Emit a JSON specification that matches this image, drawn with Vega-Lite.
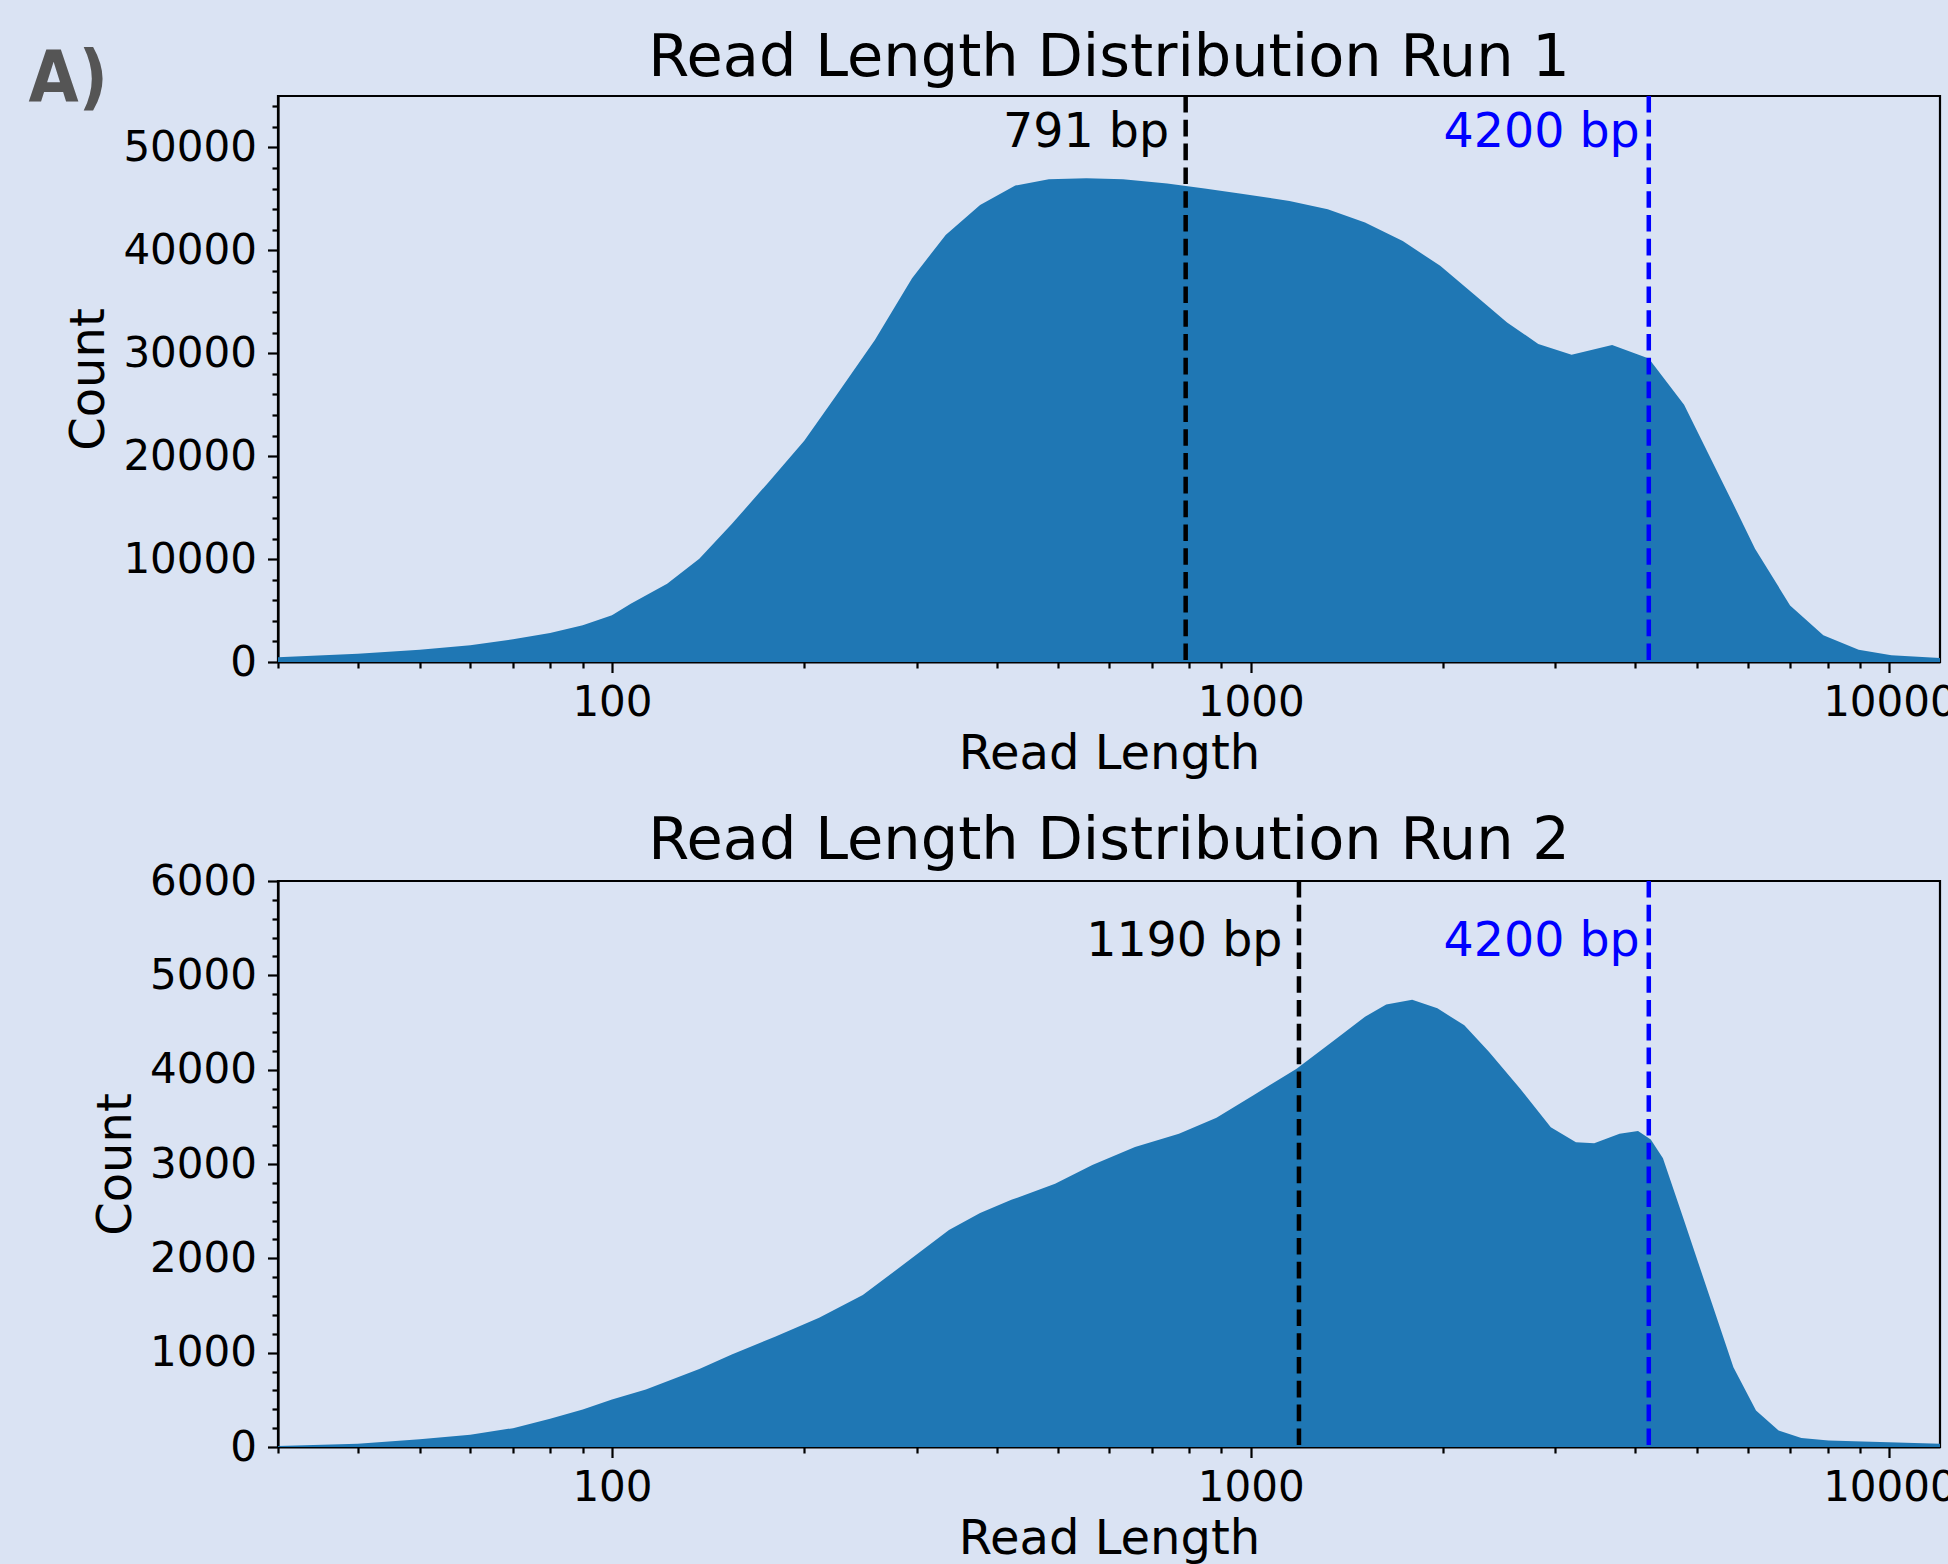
{
  "$schema": "https://vega.github.io/schema/vega-lite/v6.json",
  "background": "#dae3f3",
  "padding": {"left": 27, "top": 28, "right": 0, "bottom": 0},
  "spacing": 30,
  "config": {
    "view": {"stroke": "black", "strokeWidth": 2.2},
    "axis": {
      "domainColor": "black", "domainWidth": 2.2,
      "tickColor": "black", "tickWidth": 2.2,
      "labelFont": "DejaVu Sans", "labelFontSize": 42, "labelColor": "black",
      "titleFont": "DejaVu Sans", "titleFontSize": 48, "titleFontWeight": "normal", "titleColor": "black",
      "grid": false, "labelFlush": false, "labelOverlap": false
    },
    "title": {"font": "DejaVu Sans", "fontSize": 59, "fontWeight": "normal", "color": "black"},
    "text": {"font": "DejaVu Sans"}
  },
  "datasets": {
    "run1": [
      {"length": 30, "count": 457}, {"length": 40, "count": 810}, {"length": 50, "count": 1200},
      {"length": 60, "count": 1620}, {"length": 70, "count": 2200}, {"length": 80, "count": 2820},
      {"length": 90, "count": 3560}, {"length": 100, "count": 4540}, {"length": 107, "count": 5670},
      {"length": 122, "count": 7610}, {"length": 137, "count": 10040}, {"length": 154, "count": 13400},
      {"length": 176, "count": 17500}, {"length": 200, "count": 21500}, {"length": 225, "count": 26000},
      {"length": 258, "count": 31300}, {"length": 295, "count": 37300}, {"length": 333, "count": 41500},
      {"length": 377, "count": 44400}, {"length": 428, "count": 46300}, {"length": 483, "count": 46900},
      {"length": 553, "count": 47000}, {"length": 631, "count": 46900}, {"length": 740, "count": 46500},
      {"length": 847, "count": 46000}, {"length": 967, "count": 45500}, {"length": 1150, "count": 44800},
      {"length": 1320, "count": 44000}, {"length": 1510, "count": 42700}, {"length": 1730, "count": 40900},
      {"length": 1980, "count": 38500}, {"length": 2250, "count": 35600}, {"length": 2520, "count": 33000},
      {"length": 2820, "count": 30900}, {"length": 3180, "count": 29850}, {"length": 3680, "count": 30800},
      {"length": 4200, "count": 29500}, {"length": 4770, "count": 25000}, {"length": 5680, "count": 15500},
      {"length": 6160, "count": 11000}, {"length": 6990, "count": 5500}, {"length": 7880, "count": 2600},
      {"length": 8950, "count": 1200}, {"length": 10070, "count": 650}, {"length": 12000, "count": 390}
    ],
    "run2": [
      {"length": 30, "count": 10}, {"length": 40, "count": 35}, {"length": 50, "count": 81},
      {"length": 60, "count": 130}, {"length": 70, "count": 200}, {"length": 80, "count": 300},
      {"length": 90, "count": 398}, {"length": 100, "count": 504}, {"length": 113, "count": 609},
      {"length": 137, "count": 827}, {"length": 154, "count": 980}, {"length": 180, "count": 1170},
      {"length": 211, "count": 1370}, {"length": 247, "count": 1610}, {"length": 288, "count": 1950},
      {"length": 337, "count": 2300}, {"length": 377, "count": 2480}, {"length": 422, "count": 2620},
      {"length": 494, "count": 2790}, {"length": 565, "count": 2990}, {"length": 659, "count": 3180},
      {"length": 772, "count": 3320}, {"length": 884, "count": 3490}, {"length": 1010, "count": 3730},
      {"length": 1180, "count": 4010}, {"length": 1350, "count": 4310}, {"length": 1510, "count": 4560},
      {"length": 1630, "count": 4690}, {"length": 1790, "count": 4740}, {"length": 1960, "count": 4650},
      {"length": 2160, "count": 4470}, {"length": 2360, "count": 4190}, {"length": 2640, "count": 3800},
      {"length": 2950, "count": 3390}, {"length": 3230, "count": 3230}, {"length": 3450, "count": 3220},
      {"length": 3780, "count": 3320}, {"length": 4040, "count": 3350}, {"length": 4230, "count": 3260},
      {"length": 4420, "count": 3060}, {"length": 4770, "count": 2400}, {"length": 5268, "count": 1531},
      {"length": 5698, "count": 845}, {"length": 6182, "count": 387}, {"length": 6706, "count": 176},
      {"length": 7280, "count": 95}, {"length": 8030, "count": 70}, {"length": 12000, "count": 35}
    ],
    "lines1": [
      {"length": 791, "label": "791 bp", "kind": "median"},
      {"length": 4200, "label": "4200 bp", "kind": "target"}
    ],
    "lines2": [
      {"length": 1190, "label": "1190 bp", "kind": "median"},
      {"length": 4200, "label": "4200 bp", "kind": "target"}
    ],
    "panel": [{"label": "A)"}]
  },
  "vconcat": [
    {
      "width": 1662, "height": 566,
      "title": {"text": "Read Length Distribution Run 1", "offset": -92, "baseline": "alphabetic"},
      "resolve": {"axis": {"y": "independent"}},
      "layer": [
        {
          "data": {"name": "run1"},
          "mark": {"type": "area", "color": "#1f77b4", "opacity": 1},
          "encoding": {
            "x": {"field": "length", "type": "quantitative",
              "scale": {"type": "log", "domain": [30, 12000], "nice": false},
              "axis": {"title": "Read Length", "format": "d", "labelOverlap": false, "labelFlush": false,
                "values": [30,40,50,60,70,80,90,100,200,300,400,500,600,700,800,900,1000,2000,3000,4000,5000,6000,7000,8000,9000,10000],
                "labelExpr": "(datum.value == 100 || datum.value == 1000 || datum.value == 10000) ? datum.label : ''",
                "tickSize": {"condition": {"test": "datum.value == 100 || datum.value == 1000 || datum.value == 10000", "value": 10.5}, "value": 6},
                "labelPadding": 10, "titlePadding": 7}},
            "y": {"field": "count", "type": "quantitative",
              "scale": {"domain": [0, 55000], "nice": false},
              "axis": {"title": "Count", "format": "d", "orient": "left", "labelOverlap": false, "labelFlush": false,
                "values": [0, 10000, 20000, 30000, 40000, 50000], "tickSize": 10.5,
                "labelPadding": 11, "titlePadding": 19, "titleBaseline": "alphabetic"}}
          }
        },
        {
          "data": {"name": "lines1"},
          "mark": {"type": "rule", "strokeWidth": 4.5, "strokeDash": [16.6, 7.2]},
          "encoding": {
            "x": {"field": "length", "type": "quantitative"},
            "color": {"field": "kind", "type": "nominal", "scale": {"domain": ["median", "target"], "range": ["black", "blue"]}, "legend": null}
          }
        },
        {
          "data": {"name": "lines1"},
          "transform": [{"filter": "datum.kind == 'median'"}],
          "mark": {"type": "text", "align": "right", "baseline": "alphabetic", "dx": -16.5, "fontSize": 47.5, "color": "black"},
          "encoding": {
            "x": {"field": "length", "type": "quantitative"},
            "y": {"datum": 50000, "type": "quantitative",
              "axis": {"orient": "left", "title": null, "labels": false, "domain": false, "tickSize": 6,
                "values": [2000,4000,6000,8000,12000,14000,16000,18000,22000,24000,26000,28000,32000,34000,36000,38000,42000,44000,46000,48000,52000,54000]}},
            "text": {"field": "label"}
          }
        },
        {
          "data": {"name": "lines1"},
          "transform": [{"filter": "datum.kind == 'target'"}],
          "mark": {"type": "text", "align": "right", "baseline": "alphabetic", "dx": -9, "fontSize": 47.5, "color": "blue"},
          "encoding": {
            "x": {"field": "length", "type": "quantitative"},
            "y": {"datum": 50000, "type": "quantitative", "axis": null},
            "text": {"field": "label"}
          }
        },
        {
          "data": {"name": "panel"},
          "mark": {"type": "text", "align": "left", "baseline": "alphabetic", "fontSize": 72, "fontWeight": "bold", "font": "DejaVu Sans Condensed, DejaVu Sans", "color": "#555555"},
          "encoding": {
            "x": {"datum": 12.2},
            "y": {"datum": 54500, "type": "quantitative", "axis": null},
            "text": {"field": "label"}
          }
        }
      ]
    },
    {
      "width": 1662, "height": 566,
      "title": {"text": "Read Length Distribution Run 2", "offset": -58, "baseline": "alphabetic"},
      "resolve": {"axis": {"y": "independent"}},
      "layer": [
        {
          "data": {"name": "run2"},
          "mark": {"type": "area", "color": "#1f77b4", "opacity": 1},
          "encoding": {
            "x": {"field": "length", "type": "quantitative",
              "scale": {"type": "log", "domain": [30, 12000], "nice": false},
              "axis": {"title": "Read Length", "format": "d", "labelOverlap": false, "labelFlush": false,
                "values": [30,40,50,60,70,80,90,100,200,300,400,500,600,700,800,900,1000,2000,3000,4000,5000,6000,7000,8000,9000,10000],
                "labelExpr": "(datum.value == 100 || datum.value == 1000 || datum.value == 10000) ? datum.label : ''",
                "tickSize": {"condition": {"test": "datum.value == 100 || datum.value == 1000 || datum.value == 10000", "value": 10.5}, "value": 6},
                "labelPadding": 10, "titlePadding": 7}},
            "y": {"field": "count", "type": "quantitative",
              "scale": {"domain": [0, 6000], "nice": false},
              "axis": {"title": "Count", "format": "d", "orient": "left", "labelOverlap": false, "labelFlush": false,
                "values": [0, 1000, 2000, 3000, 4000, 5000, 6000], "tickSize": 10.5,
                "labelPadding": 11, "titlePadding": 19, "titleBaseline": "alphabetic"}}
          }
        },
        {
          "data": {"name": "lines2"},
          "mark": {"type": "rule", "strokeWidth": 4.5, "strokeDash": [16.6, 7.2]},
          "encoding": {
            "x": {"field": "length", "type": "quantitative"},
            "color": {"field": "kind", "type": "nominal", "scale": {"domain": ["median", "target"], "range": ["black", "blue"]}, "legend": null}
          }
        },
        {
          "data": {"name": "lines2"},
          "transform": [{"filter": "datum.kind == 'median'"}],
          "mark": {"type": "text", "align": "right", "baseline": "alphabetic", "dx": -16.5, "fontSize": 47.5, "color": "black"},
          "encoding": {
            "x": {"field": "length", "type": "quantitative"},
            "y": {"datum": 5200, "type": "quantitative",
              "axis": {"orient": "left", "title": null, "labels": false, "domain": false, "tickSize": 6,
                "values": [200,400,600,800,1200,1400,1600,1800,2200,2400,2600,2800,3200,3400,3600,3800,4200,4400,4600,4800,5200,5400,5600,5800]}},
            "text": {"field": "label"}
          }
        },
        {
          "data": {"name": "lines2"},
          "transform": [{"filter": "datum.kind == 'target'"}],
          "mark": {"type": "text", "align": "right", "baseline": "alphabetic", "dx": -9, "fontSize": 47.5, "color": "blue"},
          "encoding": {
            "x": {"field": "length", "type": "quantitative"},
            "y": {"datum": 5200, "type": "quantitative", "axis": null},
            "text": {"field": "label"}
          }
        }
      ]
    }
  ]
}
